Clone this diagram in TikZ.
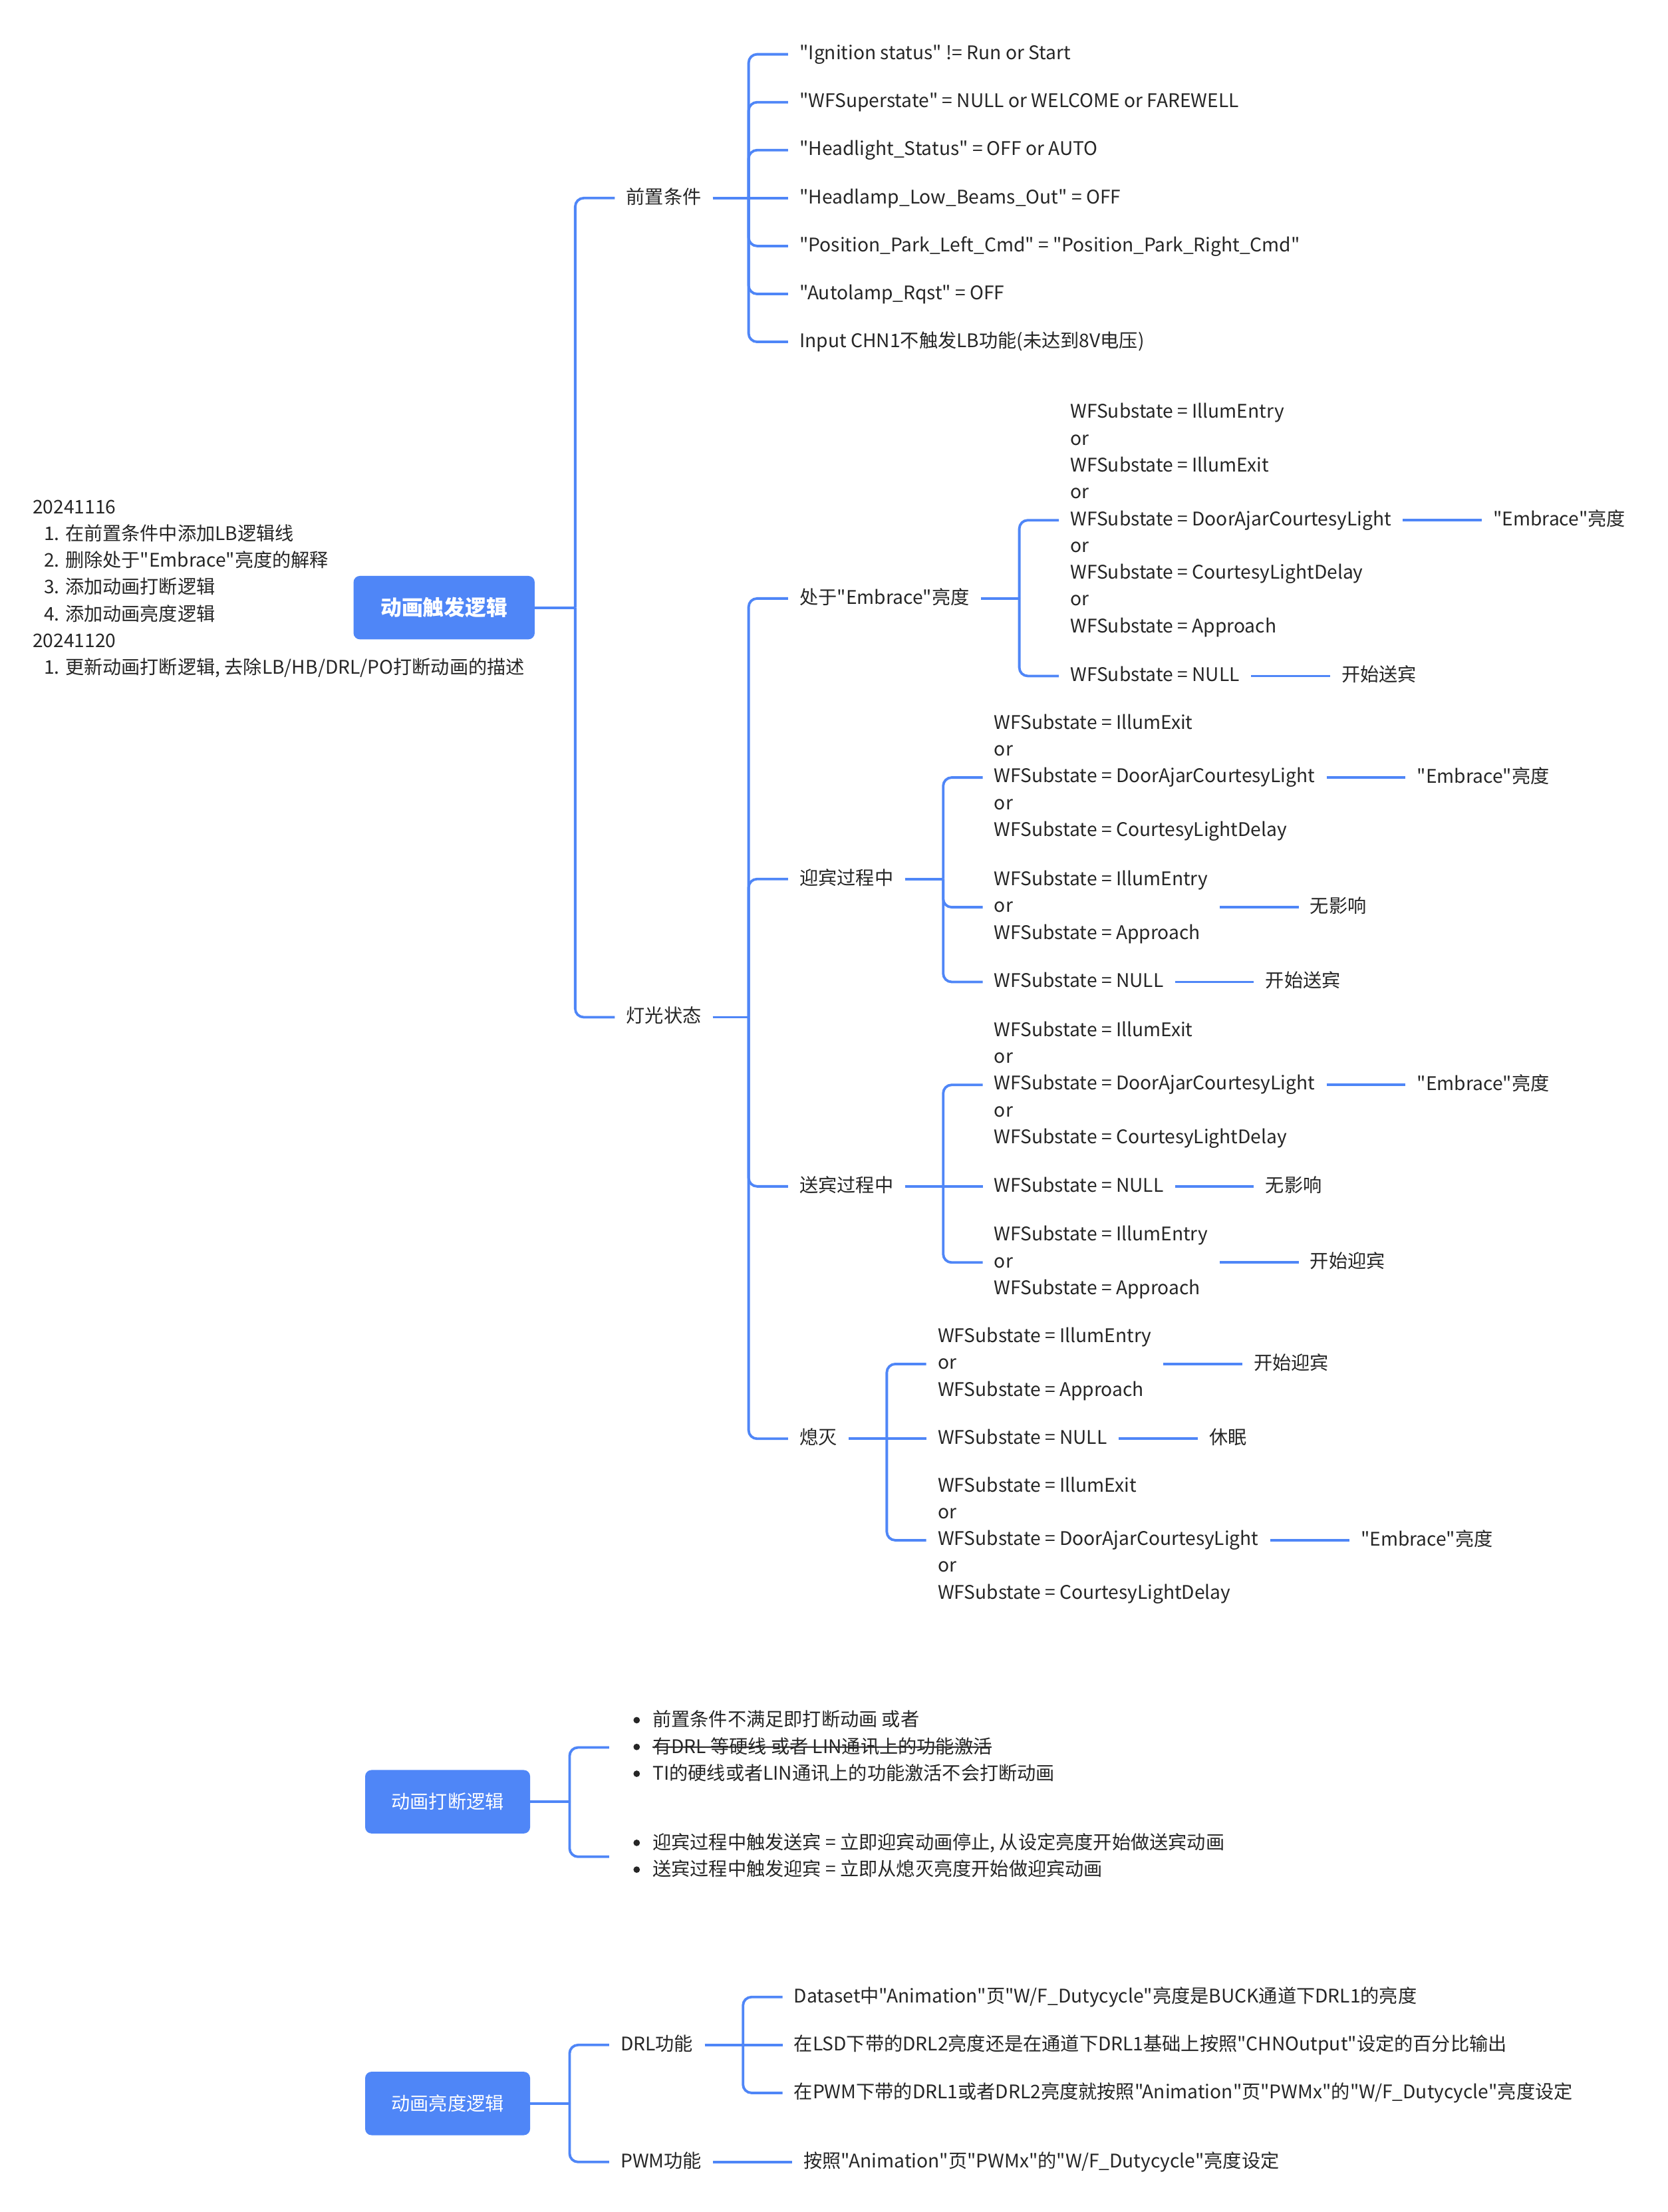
\documentclass[tikz,border=0pt]{standalone}
\usepackage{fontspec}
\setmainfont{Noto Sans CJK SC}[Ligatures=TeXOff]
\usetikzlibrary{calc,positioning}
\definecolor{mapblue}{HTML}{4F86F7}
\definecolor{ink}{HTML}{262626}
\def\vstrut{\rule[-3.2pt]{0pt}{14.2pt}}
\def\wf#1{WFSubstate = #1}
\def\grpexit{\wf{IllumExit}\\or\\\wf{DoorAjarCourtesyLight}\\or\\\wf{CourtesyLightDelay}}
\def\grpentry{\wf{IllumEntry}\\or\\\wf{Approach}}
\def\bul{\makebox[30.7pt][l]{\hspace*{19.4pt}\makebox[0pt]{\tikz[baseline=-4.4pt]\fill[ink] (0,0) circle (2.3pt);}}}
\def\strike#1{\setbox0=\hbox{#1}\rlap{\rule[3.9pt]{\wd0}{0.9pt}}\box0}
\def\bough(#1)(#2){\draw[mapline] (#1.east) -- ($(#2.west |- #1.east)+(-28,0)$);
	\draw[mapline, rounded corners=6pt] ($(#2.west |- #1.east)+(-28,0)$) |- (#2.west);}
\def\twig(#1)(#2){\draw[mapline] (#1.east) -- (#2.west);}
\tikzset{
	mapline/.style={draw=mapblue, line width=1.8pt},
	txt/.style={anchor=west, inner xsep=8pt, inner ysep=0pt, align=left, text=ink,
		font=\fontsize{13.3pt}{19pt}\selectfont,
		execute at begin node=\vstrut, execute at end node=\vstrut},
	rootbox/.style={fill=mapblue, text=white, rounded corners=4.5pt, inner sep=0pt,
		minimum height=45pt, minimum width=117pt, font=\fontsize{13.3pt}{19pt}\selectfont},
}

\begin{document}
\begin{tikzpicture}[x=1pt, y=-1pt]
			%%%%% START %%%%%
			
			\useasboundingbox[fill=white] (0,-1.5) rectangle (1183,1567.5);
			
			\node[rootbox, minimum width=128.5pt, font=\fontsize{15pt}{19pt}\selectfont\bfseries] (trig) at (315,429.5) {动画触发逻辑};
			
			\node[txt, inner xsep=0pt] (memo) at (23,416.5) {20241116\\
				\hspace*{8pt}1. 在前置条件中添加LB逻辑线\\
				\hspace*{8pt}2. 删除处于"Embrace"亮度的解释\\
				\hspace*{8pt}3. 添加动画打断逻辑\\
				\hspace*{8pt}4. 添加动画亮度逻辑\\
				20241120\\
				\hspace*{8pt}1. 更新动画打断逻辑, 去除LB/HB/DRL/PO打断动画的描述};
			
			\node[txt] (pre) at (436,139) {前置条件};
			\node[txt] (lamp) at (436,720) {灯光状态};
			
			\node[txt] (p1) at (559,37) {"Ignition status" != Run or Start};
			\node[txt] (p2) at (559,71) {"WFSuperstate" = NULL or WELCOME or FAREWELL};
			\node[txt] (p3) at (559,105) {"Headlight\_Status" = OFF or AUTO};
			\node[txt] (p4) at (559,139) {"Headlamp\_Low\_Beams\_Out" = OFF};
			\node[txt] (p5) at (559,173) {"Position\_Park\_Left\_Cmd" = "Position\_Park\_Right\_Cmd"};
			\node[txt] (p6) at (559,207) {"Autolamp\_Rqst" = OFF};
			\node[txt] (p7) at (559,241) {Input CHN1不触发LB功能(未达到8V电压)};
			
			\node[txt] (s1) at (559,423) {处于"Embrace"亮度};
			\node[txt] (s2) at (559,622) {迎宾过程中};
			\node[txt] (s3) at (559,840) {送宾过程中};
			\node[txt] (s4) at (559,1019) {熄灭};
			
			% 处于"Embrace"亮度
			\node[txt] (a1) at (751,367.5) {\wf{IllumEntry}\\or\\\wf{IllumExit}\\or\\\wf{DoorAjarCourtesyLight}\\or\\\wf{CourtesyLightDelay}\\or\\\wf{Approach}};
			\node[txt] (a2) at (751,478) {\wf{NULL}};
			\node[txt, right=56pt of a1] (a1x) {"Embrace"亮度};
			\node[txt, right=56pt of a2] (a2x) {开始送宾};
			
			% 迎宾过程中
			\node[txt] (b1) at (697,550) {\grpexit};
			\node[txt] (b2) at (697,642) {\grpentry};
			\node[txt] (b3) at (697,695) {\wf{NULL}};
			\node[txt, right=56pt of b1] (b1x) {"Embrace"亮度};
			\node[txt, right=56pt of b2] (b2x) {无影响};
			\node[txt, right=56pt of b3] (b3x) {开始送宾};
			
			% 送宾过程中
			\node[txt] (c1) at (697,768) {\grpexit};
			\node[txt] (c2) at (697,840) {\wf{NULL}};
			\node[txt] (c3) at (697,894) {\grpentry};
			\node[txt, right=56pt of c1] (c1x) {"Embrace"亮度};
			\node[txt, right=56pt of c2] (c2x) {无影响};
			\node[txt, right=56pt of c3] (c3x) {开始迎宾};
			
			% 熄灭
			\node[txt] (d1) at (657,966) {\grpentry};
			\node[txt] (d2) at (657,1019) {\wf{NULL}};
			\node[txt] (d3) at (657,1091) {\grpexit};
			\node[txt, right=56pt of d1] (d1x) {开始迎宾};
			\node[txt, right=56pt of d2] (d2x) {休眠};
			\node[txt, right=56pt of d3] (d3x) {"Embrace"亮度};
			
			\bough(trig)(pre)
			\bough(trig)(lamp)
			\bough(pre)(p1)
			\bough(pre)(p2)
			\bough(pre)(p3)
			\twig(pre)(p4)
			\bough(pre)(p5)
			\bough(pre)(p6)
			\bough(pre)(p7)
			\bough(lamp)(s1)
			\bough(lamp)(s2)
			\bough(lamp)(s3)
			\bough(lamp)(s4)
			
			\bough(s1)(a1)
			\bough(s1)(a2)
			\twig(a1)(a1x)
			\twig(a2)(a2x)
			\bough(s2)(b1)
			\bough(s2)(b2)
			\bough(s2)(b3)
			\twig(b1)(b1x)
			\twig(b2)(b2x)
			\twig(b3)(b3x)
			\bough(s3)(c1)
			\twig(s3)(c2)
			\bough(s3)(c3)
			\twig(c1)(c1x)
			\twig(c2)(c2x)
			\twig(c3)(c3x)
			\bough(s4)(d1)
			\twig(s4)(d2)
			\bough(s4)(d3)
			\twig(d1)(d1x)
			\twig(d2)(d2x)
			\twig(d3)(d3x)
			
			
			\node[rootbox] (brk) at (317.5,1276.5) {动画打断逻辑};
			\node[txt, inner xsep=0pt] (q1) at (432,1238) {\bul 前置条件不满足即打断动画 或者\\
				\bul \strike{有DRL 等硬线 或者 LIN通讯上的功能激活}\\
				\bul TI的硬线或者LIN通讯上的功能激活不会打断动画};
			\node[txt, inner xsep=0pt] (q2) at (432,1315.5) {\bul 迎宾过程中触发送宾 = 立即迎宾动画停止, 从设定亮度开始做送宾动画\\
				\bul 送宾过程中触发迎宾 = 立即从熄灭亮度开始做迎宾动画};
			\bough(brk)(q1)
			\bough(brk)(q2)
			
			
			\node[rootbox] (lum) at (317.5,1490.5) {动画亮度逻辑};
			\node[txt] (drl) at (432,1449) {DRL功能};
			\node[txt] (pwm) at (432,1532) {PWM功能};
			\node[txt] (r1) at (555,1415) {Dataset中"Animation"页"W/F\_Dutycycle"亮度是BUCK通道下DRL1的亮度};
			\node[txt] (r2) at (555,1449) {在LSD下带的DRL2亮度还是在通道下DRL1基础上按照"CHNOutput"设定的百分比输出};
			\node[txt] (r3) at (555,1483) {在PWM下带的DRL1或者DRL2亮度就按照"Animation"页"PWMx"的"W/F\_Dutycycle"亮度设定};
			\node[txt, right=56pt of pwm] (pwmx) {按照"Animation"页"PWMx"的"W/F\_Dutycycle"亮度设定};
			\bough(lum)(drl)
			\bough(lum)(pwm)
			\bough(drl)(r1)
			\twig(drl)(r2)
			\bough(drl)(r3)
			\twig(pwm)(pwmx)
			
			%%%%% END %%%%%
		\end{tikzpicture}
\end{document}
